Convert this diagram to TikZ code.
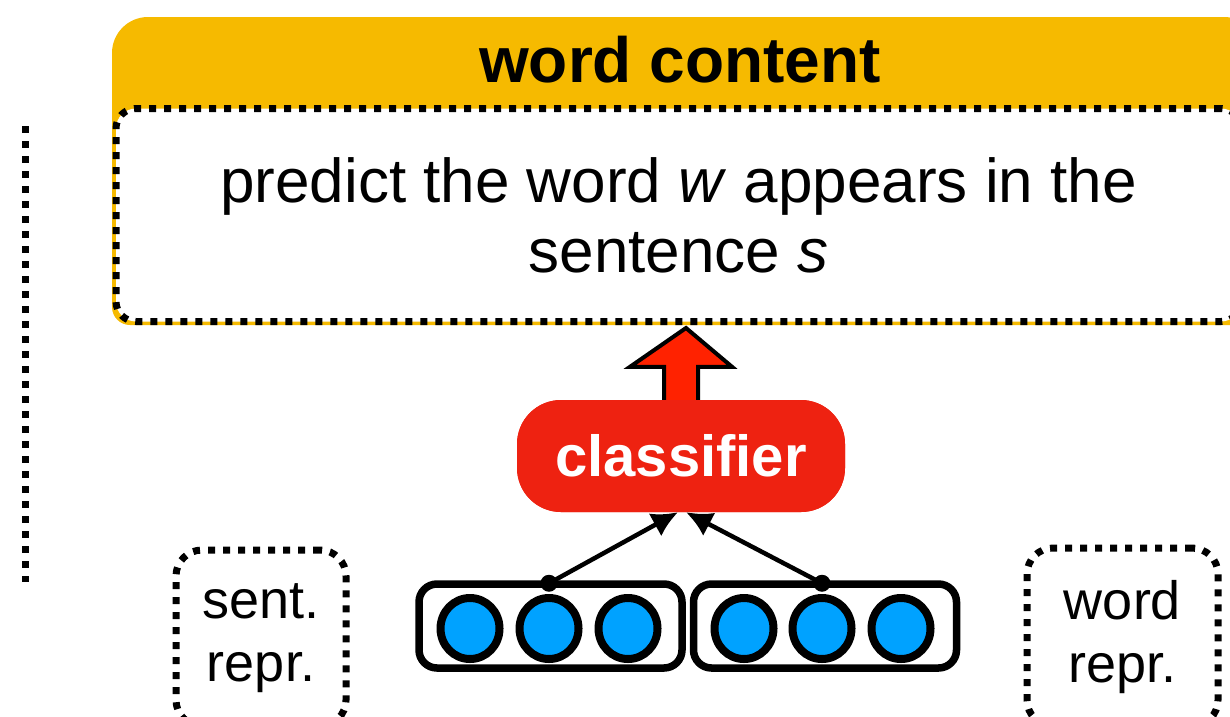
\documentclass[tikz,border=0pt]{standalone}
\usepackage{fontspec}
\setmainfont{Liberation Sans}
\usetikzlibrary{calc,arrows.meta,shapes.geometric}
\definecolor{hdrcol}{HTML}{F6BA00}
\definecolor{clscol}{HTML}{EE2211}
\definecolor{arrcol}{HTML}{FF2200}
\definecolor{unitcol}{HTML}{00A2FF}
\tikzset{
  dotline/.style={line width=7pt, dash pattern=on 7pt off 8pt},
  taskbox/.style={draw, dotline, fill=white, rounded corners=20pt, minimum width=1125pt, minimum height=213pt, inner sep=0pt, align=center, font=\fontsize{62}{70}\selectfont},
  clsbox/.style={fill=clscol, rounded corners=44pt, minimum width=328pt, minimum height=112pt, inner sep=0pt, text=white, font=\fontsize{58}{60}\selectfont\bfseries},
  vecbox/.style={draw, line width=7.5pt, rounded corners=18pt, minimum width=263pt, minimum height=84pt, inner sep=0pt},
  unit/.style={ellipse, draw, line width=8pt, fill=unitcol, minimum width=59pt, minimum height=61pt, inner sep=0pt},
  joint/.style={circle, fill=black, minimum size=17pt, inner sep=0pt},
  conn/.style={line width=4.5pt, -{Latex[length=26pt,width=26pt]}},
  reprbox/.style={draw, dotline, rounded corners=26pt, inner sep=0pt, align=center, font=\fontsize{54}{63}\selectfont},
  blockarrow/.style={draw, line width=4pt, fill=arrcol, line join=miter},
}
\begin{document}
\begin{tikzpicture}[x=1pt,y=-1pt]
\useasboundingbox (0,0) rectangle (1230,716);
\clip (0,0) rectangle (1230,716);
% header
\fill[hdrcol, rounded corners=36pt] (112,17) rectangle (1260,200);
\fill[hdrcol, rounded corners=18pt] (112,100) rectangle (1260,325);
\node[font=\fontsize{64}{70}\selectfont\bfseries, inner sep=0pt] (title) at (680,60) {word content};
% task
\node[taskbox] (task) at (678.5,215) {predict the word \textit{w} appears in the\\ sentence \textit{s}};
% classifier
\node[clsbox] (cls) at (681,456) {classifier};
\coordinate (tip) at ($(cls.north |- task.south)+(5,3)$);
\draw[blockarrow] ($(cls.north)+(-17,4)$) -- ($(cls.north)+(-17,-33)$) -- ($(cls.north)+(-51,-33)$) -- (tip) -- ($(cls.north)+(51,-33)$) -- ($(cls.north)+(17,-33)$) -- ($(cls.north)+(17,4)$) -- cycle;
\node[clsbox] at (cls) {classifier};
% vectors
\node[vecbox] (vecL) at (550.5,626) {};
\node[vecbox] (vecR) at (825,626) {};
\node[unit] (c1) at (470,628.5) {};
\node[unit] (c2) at (549,628.5) {};
\node[unit] (c3) at (628,628.5) {};
\node[unit] (c4) at (744,628.5) {};
\node[unit] (c5) at (822,628.5) {};
\node[unit] (c6) at (901,628.5) {};
\node[joint] (dL) at ($(c2 |- vecL.north)+(0,3)$) {};
\node[joint] (dR) at ($(c5 |- vecR.north)+(0,3)$) {};
\draw[conn] (dL.center) -- ($(cls.south)+(-3,0)$);
\draw[conn] (dR.center) -- ($(cls.south)+(5,0)$);
% repr boxes
\node[reprbox, minimum width=170pt, minimum height=176pt] (sent) at (261,638) {sent.\\ repr.};
\node[reprbox, minimum width=191pt, minimum height=178pt] (word) at (1122.5,637) {word\\ repr.};
% vertical dotted line
\coordinate (vtop) at (25,126);
\coordinate (vbot) at (25,582);
\draw[dotline] (vtop) -- (vbot);
\end{tikzpicture}
\end{document}
